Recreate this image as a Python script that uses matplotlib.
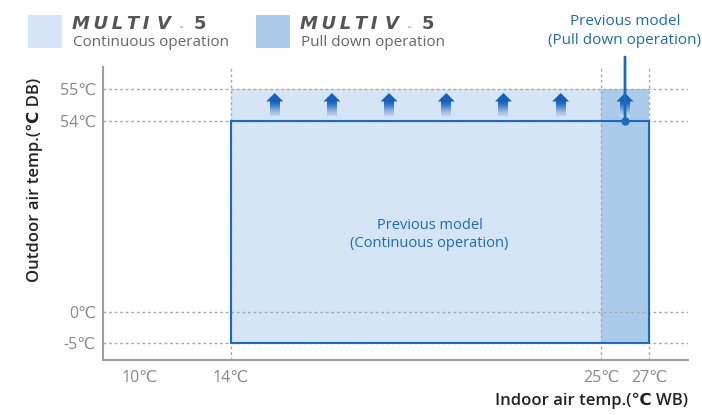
import numpy as np
import matplotlib
matplotlib.use("Agg")
import matplotlib.pyplot as plt
from matplotlib.patches import Rectangle, Polygon
from matplotlib.transforms import ScaledTranslation, blended_transform_factory

plt.rcParams['font.family'] = ['Open Sans', 'DejaVu Sans']

# ---- datos del gráfico ----
x_ticks = [10, 14, 25, 27]
x_tick_labels = ['10℃', '14℃', '25℃', '27℃']
y_ticks = [-5, 0, 54, 55]
y_tick_labels = ['-5℃', '0℃', '54℃', '55℃']

new_continuous = (14, 25, -5, 55)    # MULTI V 5 - continuous
new_pulldown = (25, 27, -5, 55)      # MULTI V 5 - pull down
prev_continuous = (14, 27, -5, 54)   # previous model - continuous
prev_pulldown_x = 26
prev_pulldown_y = 54

arrow_x = [15.3, 17.0, 18.7, 20.4, 22.1, 23.8, 26.0]
arrow_y = 54.5

# escala no lineal del dibujo original (tramos)
x_knots = [8, 10, 14, 25, 27, 30]
x_pos = [103, 140, 231, 601, 649, 688]
y_knots = [-8, -5, 0, 54, 55, 58]
y_pos = [55, 72, 103, 294, 326, 348]

BLUE = '#1a6bbf'
LIGHT = '#d5e5f5'
DARK = '#abcbea'
GRID = '#a8a8a8'
LOGO = '#555555'


def fx(px):
    return px / 702


def fy(py):
    return 1 - py / 415


fig = plt.figure(figsize=(7.02, 4.15), dpi=100)
ax = fig.add_axes([fx(103), fy(360), fx(688) - fx(103), fy(67) - fy(360)])

ax.set_xscale('function', functions=(lambda v: np.interp(v, x_knots, x_pos),
                                     lambda v: np.interp(v, x_pos, x_knots)))
ax.set_yscale('function', functions=(lambda v: np.interp(v, y_knots, y_pos),
                                     lambda v: np.interp(v, y_pos, y_knots)))
ax.set_xlim(x_knots[0], x_knots[-1])
ax.set_ylim(y_knots[0], y_knots[-1])

# zonas de funcionamiento
for (x0, x1, y0, y1), col in [(new_continuous, LIGHT), (new_pulldown, DARK)]:
    ax.add_patch(Rectangle((x0, y0), x1 - x0, y1 - y0, facecolor=col,
                           edgecolor='none', zorder=1))

# rejilla punteada
for y in y_ticks:
    ax.axhline(y, color=GRID, lw=1, ls=(0, (2, 2)), zorder=2)
for x in x_ticks[1:]:
    ax.axvline(x, color=GRID, lw=1, ls=(0, (2, 2)), zorder=2)

x0, x1, y0, y1 = prev_continuous
ax.add_patch(Rectangle((x0, y0), x1 - x0, y1 - y0, facecolor='none',
                       edgecolor=BLUE, lw=1.5, zorder=3))

# flechas con degradado
head_col = np.array(matplotlib.colors.to_rgb('#1560bd'))
tail_col = np.array(matplotlib.colors.to_rgb('#cfe0f3'))
n_slices = 14
for xa in arrow_x:
    trans = fig.dpi_scale_trans + ScaledTranslation(xa, arrow_y, ax.transData)
    ax.add_artist(Polygon([(-0.085, 0.035), (0, 0.12), (0.085, 0.035)],
                          closed=True, facecolor=head_col, edgecolor='none',
                          transform=trans, zorder=4))
    top, bot = 0.036, -0.12
    h = (top - bot) / n_slices
    for i in range(n_slices):
        t = i / (n_slices - 1)
        col = head_col * (1 - t) + tail_col * t
        ax.add_artist(Rectangle((-0.05, top - (i + 1) * h - 0.001), 0.10, h + 0.002,
                                facecolor=col, edgecolor='none',
                                transform=trans, zorder=4))

# modelo anterior (pull down)
ax.annotate('', xy=(prev_pulldown_x, prev_pulldown_y), xycoords='data',
            xytext=(prev_pulldown_x, 1.034), textcoords=('data', 'axes fraction'),
            arrowprops=dict(arrowstyle='-', color=BLUE, lw=2,
                            shrinkA=0, shrinkB=0), zorder=5)
ax.plot(prev_pulldown_x, prev_pulldown_y, 'o', ms=5, color=BLUE, zorder=6)
btrans = blended_transform_factory(ax.transData, ax.transAxes)
ax.text(prev_pulldown_x, 1.123, 'Previous model\n(Pull down operation)',
        transform=btrans, ha='center', va='center', fontsize=11,
        color=BLUE, linespacing=1.4, clip_on=False)

ax.text(19.9, 22.0, 'Previous model\n(Continuous operation)', ha='center',
        va='center', fontsize=10.5, color=BLUE, linespacing=1.3, zorder=5)

# ejes
ax.set_xticks(x_ticks)
ax.set_xticklabels(x_tick_labels)
ax.set_yticks(y_ticks)
ax.set_yticklabels(y_tick_labels)
ax.minorticks_off()
ax.tick_params(length=0, labelsize=11.5, labelcolor='#888888')
ax.tick_params(axis='x', pad=7)
ax.tick_params(axis='y', pad=5)
for side in ['top', 'right']:
    ax.spines[side].set_visible(False)
for side in ['left', 'bottom']:
    ax.spines[side].set_color('#a0a0a0')
    ax.spines[side].set_linewidth(1.5)

fig.text(fx(688), fy(401), 'Indoor air temp.(℃ WB)', ha='right', va='center',
         fontsize=12, fontweight='semibold', color='#222222')
fig.text(fx(35), fy(180), 'Outdoor air temp.(℃ DB)', ha='center', va='center',
         rotation=90, fontsize=12, fontweight='semibold', color='#222222')

# leyenda
logo_font = dict(family='DejaVu Sans', fontweight='heavy', color=LOGO,
                 va='center', fontsize=13)
for bx, col, label in [(28, LIGHT, 'Continuous operation'),
                       (256, DARK, 'Pull down operation')]:
    fig.add_artist(Rectangle((fx(bx), fy(48)), fx(34), 33 / 415, facecolor=col,
                             edgecolor='none', transform=fig.transFigure))
    fig.text(fx(bx + 44), fy(24), 'M\u2009U\u2009L\u2009T\u2009I', style='italic',
             **logo_font)
    fig.text(fx(bx + 129), fy(24), 'V', style='italic', **logo_font)
    fig.text(fx(bx + 150), fy(29), '™', fontsize=3.5, color=LOGO,
             family='DejaVu Sans', va='center')
    fig.text(fx(bx + 166), fy(24), '5', **logo_font)
    fig.text(fx(bx + 45), fy(42), label, fontsize=11, color='#666666', va='center')

fig.savefig('out.png', dpi=100)
